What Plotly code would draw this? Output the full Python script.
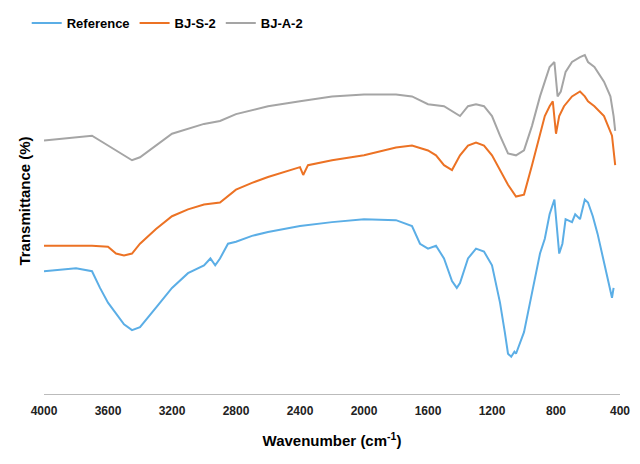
import plotly.graph_objects as go

ref_x = [4000,3800,3700,3650,3600,3500,3450,3400,3300,3200,3100,3000,2960,2930,2900,2850,2800,2700,2600,2400,2200,2000,1800,1700,1650,1600,1550,1500,1450,1420,1400,1350,1300,1250,1200,1150,1120,1100,1080,1060,1050,1000,950,900,870,840,810,795,780,760,740,700,680,650,620,600,570,540,500,470,450,440]
ref_y = [268,265,268,285,300,322,328,325,305,285,270,262,255,262,255,240,238,232,228,222,218,215,216,222,240,245,242,255,278,285,280,255,245,248,262,300,330,352,355,350,352,330,290,250,235,210,195,225,250,240,215,218,210,215,195,198,212,230,260,280,295,285]

bjs_x = [4000,3700,3600,3550,3500,3450,3400,3300,3200,3100,3000,2900,2800,2700,2600,2400,2380,2350,2200,2000,1800,1700,1600,1550,1500,1450,1400,1350,1300,1250,1200,1150,1100,1050,1000,950,900,870,840,820,800,780,750,700,650,620,600,560,500,450,430]
bjs_y = [242,242,243,250,252,250,240,225,212,205,200,198,185,178,172,162,170,160,155,150,142,140,145,150,160,165,150,140,137,140,150,165,180,192,190,160,130,110,100,95,128,110,100,90,85,90,95,100,110,130,160]

bja_x = [4000,3800,3700,3600,3500,3450,3400,3300,3200,3000,2900,2800,2600,2400,2200,2000,1800,1700,1600,1500,1450,1400,1350,1300,1250,1200,1150,1100,1050,1000,950,900,870,840,810,790,770,740,700,650,620,600,560,500,460,440,430]
bja_y = [135,132,130,140,150,155,152,140,128,118,115,108,100,95,90,88,88,90,98,100,105,110,100,98,100,110,130,148,150,145,120,90,75,60,55,90,85,65,55,50,48,55,60,75,90,110,125]

fig = go.Figure()
for name, xs, ys, c in [("Reference", ref_x, ref_y, "#5BAEE6"),
                        ("BJ-S-2", bjs_x, bjs_y, "#EC7224"),
                        ("BJ-A-2", bja_x, bja_y, "#A5A5A5")]:
    fig.add_trace(go.Scatter(x=xs, y=[-v for v in ys], mode="lines", name=name,
                             line=dict(color=c, width=2)))

fig.update_layout(
    width=640, height=464, plot_bgcolor="white", paper_bgcolor="white",
    margin=dict(l=36, r=28, t=0, b=78),
    font=dict(family="Liberation Sans, Arial", size=12, color="#000"),
    legend=dict(orientation="h", x=-0.03, y=1.0, xanchor="left", yanchor="top",
                font=dict(size=13, family="Liberation Sans, Arial", weight="bold"),
                bgcolor="rgba(0,0,0,0)"),
    xaxis=dict(range=[4000, 400], tickmode="array",
               tickvals=[4000,3600,3200,2800,2400,2000,1600,1200,800,400],
               showgrid=False, showline=True, linecolor="#bbb", ticks="outside",
               ticklen=6, tickcolor="rgba(0,0,0,0)",
               tickfont=dict(size=12, weight="bold", color="#222"),
               title=dict(text="<b>Wavenumber (cm<sup>-1</sup>)</b>", font=dict(size=15), standoff=18)),
    yaxis=dict(range=[-393, 0], showticklabels=False, showgrid=False, zeroline=False,
               title=dict(text="<b>Transmittance (%)</b>", font=dict(size=15), standoff=8)),
)
fig.write_html("out.html")
